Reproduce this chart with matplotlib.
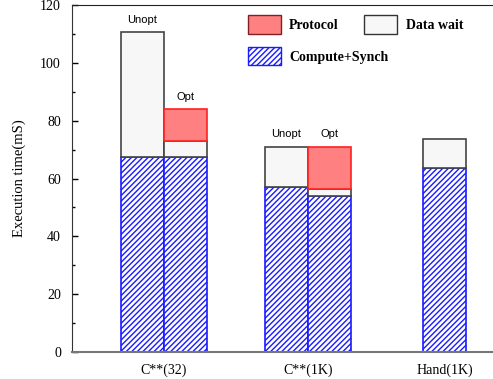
import matplotlib
matplotlib.use("Agg")
import matplotlib.pyplot as plt
from matplotlib.patches import Patch
from matplotlib.ticker import MultipleLocator

plt.rcParams['hatch.linewidth'] = 1.0

# data
groups = ["C**(32)", "C**(1K)", "Hand(1K)"]
bar_labels = ["Unopt", "Opt", "Unopt", "Opt", ""]
compute = [67.5, 67.5, 57.0, 54.0, 63.5]
datawait = [43.0, 5.5, 14.0, 2.2, 10.3]
protocol = [0.0, 11.0, 0.0, 14.8, 0.0]

# layout
group_pos = [0.0, 1.0, 1.95]
bw = 0.3
bar_x = [group_pos[0] - bw/2, group_pos[0] + bw/2,
         group_pos[1] - bw/2, group_pos[1] + bw/2,
         group_pos[2]]

fig = plt.figure(figsize=(4.93, 3.79), dpi=100)
ax = fig.add_axes([72/493, 1 - 352/379, 1 - 72/493 + 0.001, 347/379])

blue = '#1a1aff'
ax.bar(bar_x, compute, width=bw, color='white', edgecolor=blue, hatch='//////', linewidth=1.2)
ax.bar(bar_x, datawait, width=bw, bottom=compute, color='#f7f7f7', edgecolor='#444444', linewidth=1.2)
bot2 = [c + d for c, d in zip(compute, datawait)]
for x, b, p in zip(bar_x, bot2, protocol):
    if p > 0:
        ax.bar([x], [p], width=bw, bottom=[b], color='#ff8080', edgecolor='#ff2020', linewidth=1.2)

for x, lab, c, d, p in zip(bar_x, bar_labels, compute, datawait, protocol):
    if lab:
        top = c + d + p
        ax.text(x, top + 2.5, lab, ha='center', va='bottom', fontsize=8,
                family=['Liberation Sans', 'DejaVu Sans'])

serif = ['Liberation Serif', 'DejaVu Serif']
ax.set_ylim(0, 120)
ax.set_xlim((72 - 164) / 144, (493.5 - 164) / 144)
ax.set_xticks(group_pos)
ax.set_xticklabels(groups)
ax.yaxis.set_major_locator(MultipleLocator(20))
ax.yaxis.set_minor_locator(MultipleLocator(10))
ax.tick_params(axis='y', which='major', direction='in', length=4, width=1, pad=8)
ax.tick_params(axis='y', which='minor', direction='in', length=2, width=1)
ax.tick_params(axis='x', length=0, pad=8)
for lbl in ax.get_xticklabels() + ax.get_yticklabels():
    lbl.set_family(serif)
    lbl.set_fontsize(10)
ax.set_ylabel("Execution time(mS)", family=serif, fontsize=10.5, labelpad=10)
ax.spines['right'].set_visible(False)
ax.spines['left'].set_color('#333333')
ax.spines['top'].set_color('#222222')
ax.spines['bottom'].set_color('#777777')
ax.spines['bottom'].set_linewidth(1.5)

handles = [Patch(facecolor='#ff8080', edgecolor='#802020', label='Protocol'),
           Patch(facecolor='white', edgecolor=blue, hatch='//////', label='Compute+Synch'),
           Patch(facecolor='#f7f7f7', edgecolor='#333333', label='Data wait')]
leg = fig.legend(handles=handles, loc='upper left', bbox_to_anchor=(235/493, 1 - 3/379), ncol=2,
           frameon=False, handlelength=2.4, handleheight=1.7, columnspacing=-1.75,
           labelspacing=0.9, handletextpad=0.6,
           prop={'family': serif, 'weight': 'bold', 'size': 10})

fig.savefig("out.png", dpi=100)
